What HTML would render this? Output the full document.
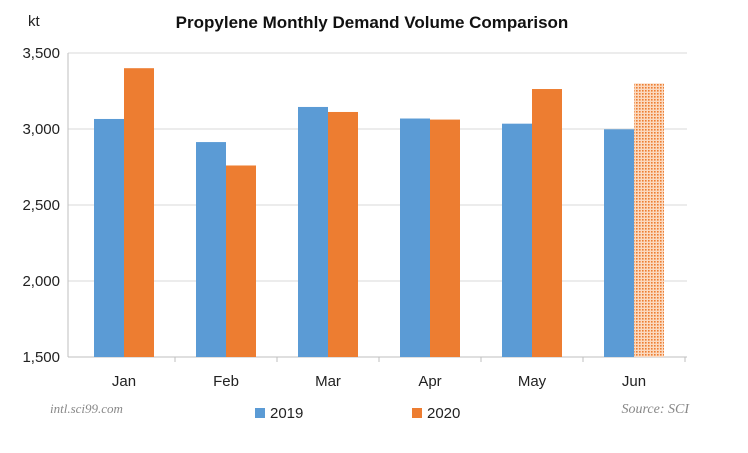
<!DOCTYPE html>
<html><head><meta charset="utf-8"><style>
body{margin:0;background:#fff;font-family:"Liberation Sans","Noto Sans CJK SC",sans-serif}
</style></head><body>
<svg width="748" height="448" xmlns="http://www.w3.org/2000/svg">
<defs><pattern id="dots" width="3" height="3" patternUnits="userSpaceOnUse"><rect width="3" height="3" fill="#fbd9bf"/><rect width="1.6" height="1.6" fill="#ed7d31"/></pattern></defs>
<text x="372" y="28" text-anchor="middle" font-size="17" font-weight="bold" fill="#111">Propylene Monthly Demand Volume Comparison</text>
<text x="28" y="26" font-size="15" fill="#222">kt</text>
<g id="grid"></g><g id="bars"></g><g id="labels"></g>
<text x="50" y="413" font-size="13" font-style="italic" font-family="Liberation Serif,serif" fill="#888">intl.sci99.com</text>
<text x="689" y="413" text-anchor="end" font-size="14" font-style="italic" font-family="Liberation Serif,serif" fill="#888">Source: SCI</text>
<rect x="255" y="408" width="10" height="10" fill="#5b9bd5"/>
<text x="270" y="418" font-size="15" fill="#222">2019</text>
<rect x="412" y="408" width="10" height="10" fill="#ed7d31"/>
<text x="427" y="418" font-size="15" fill="#222">2020</text>
</svg>
<script>
const categories=["Jan","Feb","Mar","Apr","May","Jun"];
const values2019=[3066,2914,3145,3069,3035,2998];
const values2020=[3400,2760,3112,3062,3263,3300];
const ticks=[1500,2000,2500,3000,3500];
const tickLabels=["1,500","2,000","2,500","3,000","3,500"];
const NS="http://www.w3.org/2000/svg";
const x0=68,x1=687,yMin=1500,yMax=3500,yTop=53,yBot=357;
const y=v=>yBot-(v-yMin)/(yMax-yMin)*(yBot-yTop);
const cFirst=124,cStep=102;
function mk(t,a,p){const e=document.createElementNS(NS,t);for(const k in a)e.setAttribute(k,a[k]);p.appendChild(e);return e;}
const g=document.getElementById('grid'),b=document.getElementById('bars'),l=document.getElementById('labels');
ticks.forEach((t,i)=>{
 const ln=mk('line',{x1:x0,x2:x1,y1:y(t),y2:y(t),stroke:i==0?'#bfbfbf':'#d9d9d9','stroke-width':1},g);
 
 
 const tx=mk('text',{x:x0-8,y:y(t)+5,'text-anchor':'end','font-size':15,fill:'#222'},l);
 tx.textContent=tickLabels[i];
 
 
});
mk('line',{x1:x0,x2:x0,y1:yTop,y2:yBot,stroke:'#bfbfbf'},g);
categories.forEach((c,i)=>{
 const cx=cFirst+cStep*i,bw=30;
 const tk=mk('line',{x1:cx+cStep/2,x2:cx+cStep/2,y1:yBot,y2:yBot+5,stroke:'#bfbfbf'},g);
 
 
 const r1=mk('rect',{x:cx-bw,y:y(values2019[i]),width:bw,height:yBot-y(values2019[i]),fill:'#5b9bd5'},b);
 
 
 const r2=mk('rect',{x:cx,y:y(values2020[i]),width:bw,height:yBot-y(values2020[i]),fill:i==5?'url(#dots)':'#ed7d31'},b);
 
 
 const tx=mk('text',{x:cx,y:yBot+29,'text-anchor':'middle','font-size':15,fill:'#222'},l);
 tx.textContent=c;
 
 
});
</script>
</body></html>
